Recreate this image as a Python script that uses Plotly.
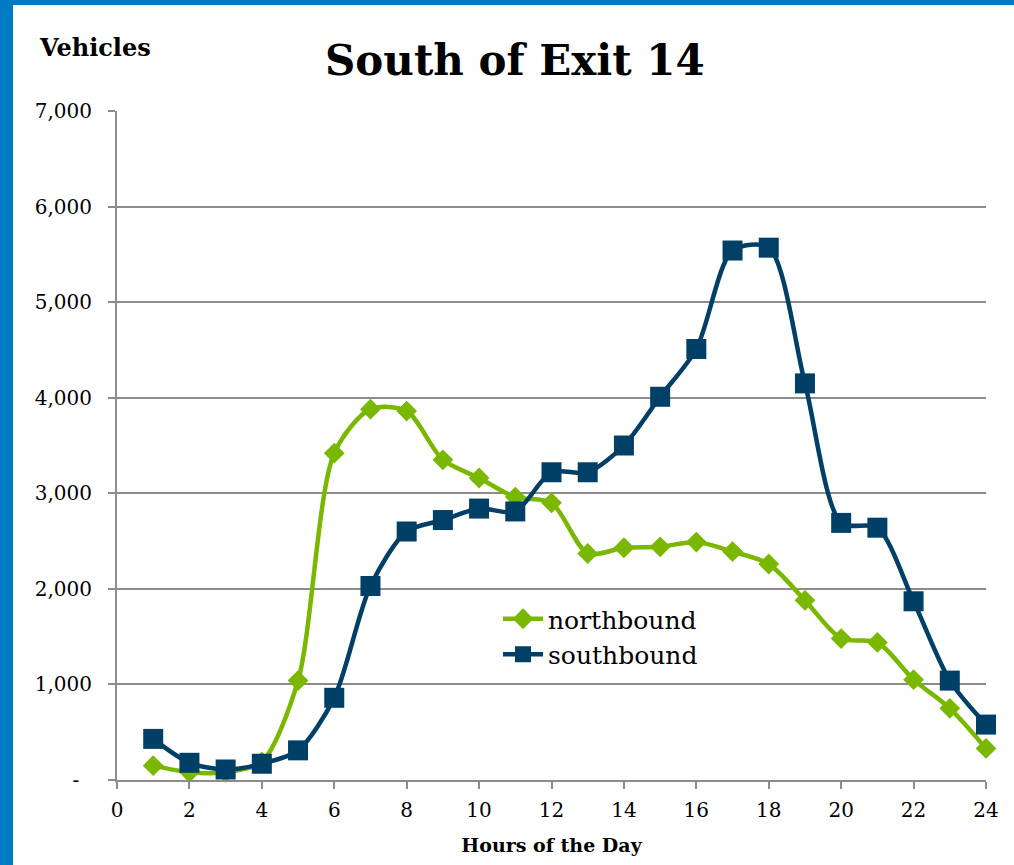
import plotly.graph_objects as go

hours = list(range(1, 25))
northbound = [150, 80, 80, 190, 1040, 3420, 3880, 3860, 3350, 3160, 2960, 2900,
              2370, 2430, 2440, 2490, 2390, 2260, 1880, 1480, 1440, 1050, 750, 330]
southbound = [430, 180, 110, 170, 310, 860, 2030, 2600, 2720, 2840, 2810, 3220,
              3220, 3500, 4010, 4510, 5540, 5570, 4150, 2690, 2640, 1870, 1040, 580]
y_ticks = [0, 1000, 2000, 3000, 4000, 5000, 6000, 7000]
y_labels = ["-\u00a0\u00a0", "1,000", "2,000", "3,000", "4,000", "5,000", "6,000", "7,000"]
x_ticks = list(range(0, 25, 2))

GREEN = "#7AB800"
NAVY = "#003F66"
BLUE = "#007AC2"
GRID = "#8C8C8C"
FONT = "DejaVu Serif"

fig = go.Figure()
fig.add_trace(go.Scatter(
    x=hours, y=northbound, name="northbound", mode="lines+markers",
    line=dict(color=GREEN, width=4.5, shape="spline", smoothing=0.8),
    marker=dict(symbol="diamond", size=16, color=GREEN), cliponaxis=False,
))
fig.add_trace(go.Scatter(
    x=hours, y=southbound, name="southbound", mode="lines+markers",
    line=dict(color=NAVY, width=4.5, shape="spline", smoothing=0.8),
    marker=dict(symbol="square", size=20, color=NAVY), cliponaxis=False,
))

W, H = 1014, 865
L, R, T, B = 117, 28, 111, 85
pw, ph = W - L - R, H - T - B

def px(xp):
    return (xp - L) / pw

def py(yp):
    return (H - B - yp) / ph

fig.update_layout(
    width=W, height=H,
    margin=dict(l=L, r=R, t=T, b=B),
    paper_bgcolor="white", plot_bgcolor="white",
    font=dict(family=FONT, size=20, color="black"),
    showlegend=True,
    legend=dict(x=px(498), y=py(596), xanchor="left", yanchor="top",
                font=dict(family=FONT, size=25), bgcolor="rgba(0,0,0,0)",
                tracegroupgap=0, itemwidth=40),
    xaxis=dict(range=[0, 24], tickvals=x_ticks, showgrid=False,
               showline=True, linecolor=GRID, linewidth=2,
               ticks="outside", tickcolor=GRID, tickwidth=2, ticklen=7,
               ticklabelstandoff=4,
               tickfont=dict(family=FONT, size=20), zeroline=False,
               title=dict(text="<b>Hours of the Day</b>", font=dict(family=FONT, size=19),
                          standoff=18)),
    yaxis=dict(range=[0, 7000], tickvals=y_ticks, ticktext=y_labels,
               showgrid=True, gridcolor=GRID, gridwidth=2,
               showline=True, linecolor=GRID, linewidth=2,
               ticks="outside", tickcolor=GRID, tickwidth=2, ticklen=7,
               ticklabelstandoff=12,
               tickfont=dict(family=FONT, size=20), zeroline=False),
    shapes=[
        dict(type="rect", xref="paper", yref="paper", x0=px(0), x1=px(13), y0=py(H), y1=py(0),
             fillcolor=BLUE, line=dict(width=0), layer="above"),
        dict(type="rect", xref="paper", yref="paper", x0=px(0), x1=px(W), y0=py(5), y1=py(0),
             fillcolor=BLUE, line=dict(width=0), layer="above"),
    ],
    annotations=[
        dict(text="<b>South of Exit 14</b>", xref="paper", yref="paper",
             x=px(515), y=py(60), xanchor="center", yanchor="middle", showarrow=False,
             font=dict(family=FONT, size=42, color="black")),
        dict(text="<b>Vehicles</b>", xref="paper", yref="paper",
             x=px(37), y=py(47), xanchor="left", yanchor="middle", showarrow=False,
             font=dict(family=FONT, size=24, color="black")),
    ],
)

fig.write_html("out.html", config={"displayModeBar": False},
               post_script="document.body.style.margin='0';document.body.style.overflow='hidden';")
